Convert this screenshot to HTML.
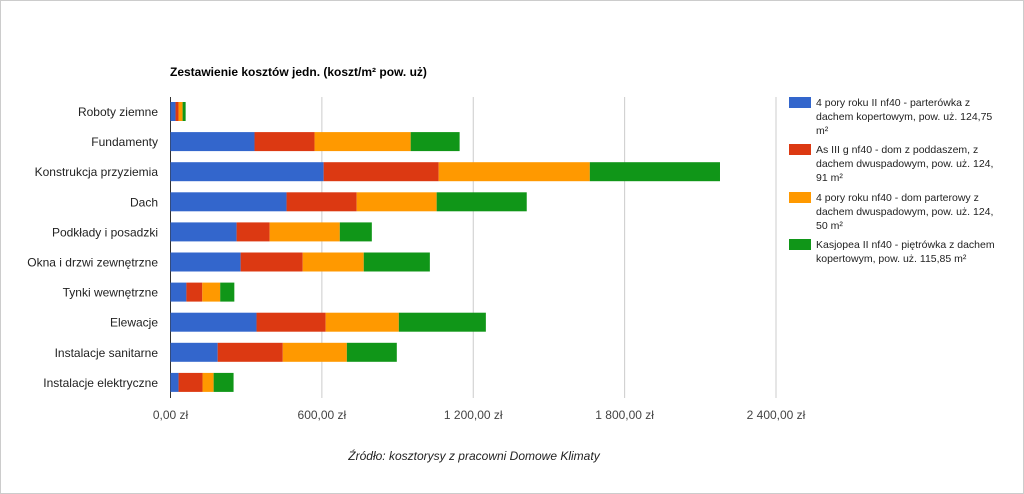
<!DOCTYPE html>
<html><head><meta charset="utf-8"><style>
body{margin:0;background:#fff}
#wrap{position:relative;width:1022px;height:492px;border:1px solid #ccc;background:#fff;overflow:hidden}
svg text{font-family:"Liberation Sans",Arial,sans-serif}
</style></head><body>
<div id="wrap">
<svg id="chart" width="1022" height="492">
<text x="169" y="75" font-size="12" font-weight="bold" fill="#000">Zestawienie kosztów jedn. (koszt/m² pow. uż)</text>
<g id="grid"></g><g id="bars"></g><g id="ylabels"></g><g id="xlabels"></g><g id="legend"></g>
<text x="473" y="459" font-size="12" font-style="italic" fill="#222" text-anchor="middle">Źródło: kosztorysy z pracowni Domowe Klimaty</text>
</svg></div>
<script>
const categories=["Roboty ziemne","Fundamenty","Konstrukcja przyziemia","Dach","Podkłady i posadzki","Okna i drzwi zewnętrzne","Tynki wewnętrzne","Elewacje","Instalacje sanitarne","Instalacje elektryczne"];
const s1=[20,333,607,460,262,278,63,341,187,32];
const s2=[12,238,456,278,131,246,63,274,258,95];
const s3=[16,381,599,317,278,242,71,290,254,44];
const s4=[12,194,516,357,127,262,56,345,198,79];
const xTicks=[0,600,1200,1800,2400];
const xTickLabels=["0,00 zł","600,00 zł","1 200,00 zł","1 800,00 zł","2 400,00 zł"];
const seriesNames=["4 pory roku II nf40 - parterówka z|dachem kopertowym, pow. uż. 124,75|m²","As III g nf40 - dom z poddaszem, z|dachem dwuspadowym, pow. uż. 124,|91 m²","4 pory roku nf40 - dom parterowy z|dachem dwuspadowym, pow. uż. 124,|50 m²","Kasjopea II nf40 - piętrówka z dachem|kopertowym, pow. uż. 115,85 m²"];
const colors=["#3366cc","#dc3912","#ff9900","#109618"];
const NS="http://www.w3.org/2000/svg";
const x0=169.5,pxPer=(775-169.5)/2400;
const X=v=>x0+v*pxPer;
const Y=i=>110.5+i*30.1;
function mk(t,a,p){const e=document.createElementNS(NS,t);for(const k in a)e.setAttribute(k,a[k]);p.appendChild(e);return e;}
const grid=document.getElementById('grid'),bars=document.getElementById('bars'),yl=document.getElementById('ylabels'),xl=document.getElementById('xlabels'),lg=document.getElementById('legend');
xTicks.forEach((t,i)=>{
 const l=mk('line',{x1:X(t),x2:X(t),y1:96,y2:397,stroke:i==0?'#333':'#ccc','stroke-width':1},grid);
 
 
 const tx=mk('text',{x:X(t),y:418,'font-size':12,fill:'#444','text-anchor':'middle'},xl);
 tx.textContent=xTickLabels[i];
 
 
});
const series=[s1,s2,s3,s4];
categories.forEach((c,i)=>{
 const tx=mk('text',{x:157,y:Y(i)+4.5,'font-size':12,fill:'#222','text-anchor':'end'},yl);
 tx.textContent=c;
 
 
 let acc=0;
 series.forEach((s,k)=>{
  const r=mk('rect',{x:X(acc),y:Y(i)-9.5,width:X(acc+s[i])-X(acc),height:19,fill:colors[k]},bars);
  
  
  acc+=s[i];
 });
});
const legY=[96,143,191,238];
seriesNames.forEach((n,k)=>{
 const r=mk('rect',{x:788,y:legY[k],width:22,height:11,fill:colors[k]},lg);
 
 
 const t=mk('text',{x:815,y:legY[k]+9,'font-size':10.5,fill:'#222'},lg);
 
 
 n.split('|').forEach((ln,j)=>{const ts=mk('tspan',{x:815,dy:j?14:0},t);ts.textContent=ln;});
});
</script>
</body></html>
